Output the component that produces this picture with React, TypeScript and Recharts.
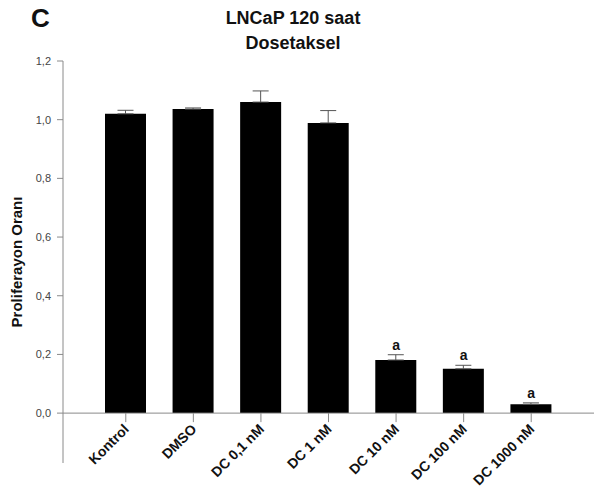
import { ComposedChart, Bar, Line, XAxis, YAxis, ReferenceLine, ErrorBar, LabelList } from 'recharts';

const categories = ['Kontrol', 'DMSO', 'DC 0,1 nM', 'DC 1 nM', 'DC 10 nM', 'DC 100 nM', 'DC 1000 nM'];
const proliferation = [1.02, 1.036, 1.06, 0.989, 0.181, 0.151, 0.03];
const errors = [0.012, 0.004, 0.038, 0.042, 0.018, 0.012, 0.005];
const significance = ['', '', '', '', 'a', 'a', 'a'];
const yTicks = [0, 0.2, 0.4, 0.6, 0.8, 1.0, 1.2];

const W = 594;
const H = 489;
const PLOT_TOP = 61;
const PLOT_BOTTOM = 463;
const Y_MIN = -0.17;
const Y_MAX = 1.2;
// pixel row of value 0 (axis sits at zero, y axis runs on below it)
const Y0_PX = PLOT_TOP + ((PLOT_BOTTOM - PLOT_TOP) * Y_MAX) / (Y_MAX - Y_MIN);

const AXIS = '#8a8a8a';
const FONT = '"Liberation Sans", Arial, sans-serif';

const data = categories.map((name, i) => ({
  name,
  value: proliferation[i],
  err: [0, errors[i]],
  capTop: proliferation[i] + errors[i],
  sig: significance[i],
}));

const XTick = (props: any) => {
  const { x, payload } = props;
  const ly = Y0_PX + 17;
  const lx = x + 4;
  return (
    <g>
      <line x1={x} y1={Y0_PX} x2={x} y2={Y0_PX + 9} stroke={AXIS} />
      <text
        x={lx}
        y={ly}
        transform={`rotate(-45, ${lx}, ${ly})`}
        textAnchor="end"
        fontFamily={FONT}
        fontWeight="bold"
        fontSize={14}
        fill="#111"
      >
        {payload.value}
      </text>
    </g>
  );
};

export default function App() {
  return (
    <div style={{ position: 'absolute', left: 0, top: 0, width: W, height: H, background: '#fff', fontFamily: FONT }}>
      <div style={{ position: 'absolute', left: 31, top: 5, fontSize: 26, lineHeight: '26px', fontWeight: 'bold', color: '#111' }}>C</div>
      <div
        style={{
          position: 'absolute',
          left: 193,
          width: 200,
          top: 6,
          textAlign: 'center',
          fontSize: 18,
          lineHeight: '25px',
          fontWeight: 'bold',
          color: '#111',
        }}
      >
        LNCaP 120 saat
        <br />
        Dosetaksel
      </div>
      <ComposedChart width={W} height={H} data={data} margin={{ top: PLOT_TOP, right: 0, bottom: 0, left: 0 }} barSize={41}>
        <XAxis
          dataKey="name"
          height={H - PLOT_BOTTOM}
          axisLine={false}
          tickLine={false}
          interval={0}
          padding={{ left: 29, right: 29 }}
          tick={<XTick />}
        />
        <YAxis
          width={63}
          domain={[Y_MIN, Y_MAX]}
          ticks={yTicks}
          allowDataOverflow
          stroke={AXIS}
          tickSize={6}
          tickMargin={6}
          tick={{ fontSize: 11, fill: '#444', fontFamily: FONT }}
          tickFormatter={(v: number) => v.toFixed(1).replace('.', ',')}
          label={({ viewBox }: any) => {
            const cy = viewBox.y + viewBox.height / 2;
            return (
              <text
                x={16}
                y={cy}
                transform={`rotate(-90, 16, ${cy})`}
                textAnchor="middle"
                dominantBaseline="central"
                fontFamily={FONT}
                fontWeight="bold"
                fontSize={15}
                fill="#111"
              >
                Proliferayon Oranı
              </text>
            );
          }}
        />
        <Bar dataKey="value" fill="#000" isAnimationActive={false}>
          <ErrorBar dataKey="err" width={8} stroke="#555" strokeWidth={1} direction="y" />
        </Bar>
        <ReferenceLine y={0} stroke={AXIS} />
        <Line dataKey="capTop" stroke="none" dot={false} activeDot={false} isAnimationActive={false} legendType="none">
          <LabelList dataKey="sig" position="top" offset={5} fontFamily={FONT} fontWeight="bold" fontSize={14} fill="#111" />
        </Line>
      </ComposedChart>
    </div>
  );
}
